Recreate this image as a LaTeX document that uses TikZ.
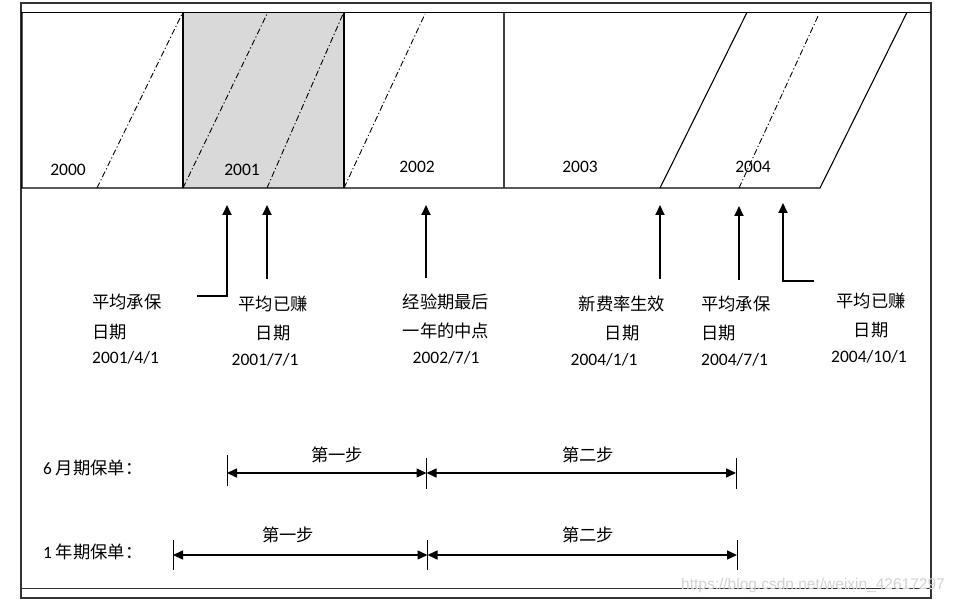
\documentclass[tikz,border=0pt]{standalone}
\usepackage{fontspec}
\setmainfont{Carlito}
\newfontfamily\cjk{Noto Sans CJK SC}
\newfontfamily\wmfont{Liberation Sans}
\usetikzlibrary{arrows.meta}
\begin{document}
\begin{tikzpicture}[x=1pt,y=-1pt,
  lbl/.style={font=\fontsize{17.3}{19}\selectfont\cjk, inner sep=0pt},
  num/.style={font=\fontsize{17.5}{19}\selectfont, inner sep=0pt},
  upar/.style={line width=1.8pt, -{Triangle[length=10pt,width=9pt]}},
  dd/.style={line width=0.9pt, dash pattern=on 6pt off 2.5pt on 1.2pt off 2.5pt},
  boxline/.style={line width=1.1pt},
  steparr/.style={line width=1.5pt, {Triangle[length=10pt,width=9pt]}-{Triangle[length=10pt,width=9pt]}},
  tickline/.style={line width=1pt}
]
\useasboundingbox (0,0) rectangle (959,604);
\fill[white] (0,0) rectangle (959,604);
% frame
\draw[line width=1.2pt, black!80] (21,3) rectangle (931,598);
\draw[line width=1pt] (21,13) -- (931,13);
\draw[line width=1pt, black!80] (21,588) -- (931,588);
% boxes
\fill[gray!30] (183,13) rectangle (344,188);
\draw[boxline] (22,13) -- (22,188) -- (820,188) -- (906.7,13);
\draw[boxline] (183,13) -- (183,188);
\draw[boxline] (344,13) -- (344,188);
\draw[boxline, black!75] (504,13) -- (504,188);
\draw[boxline] (660,188) -- (746.7,13);
% dash-dot lines
\draw[dd] (97,188) -- (182,14);
\draw[dd] (183,188) -- (267,14);
\draw[dd] (267,188) -- (343,14);
\draw[dd] (344,188) -- (425,14);
\draw[dd] (739,188) -- (819,14);
% year labels
\node[num] (y2000) at (68,170) {2000};
\node[num] (y2001) at (242,170) {2001};
\node[num] (y2002) at (417,167) {2002};
\node[num] (y2003) at (580,167) {2003};
\node[num] (y2004) at (753,167) {2004};
% arrows
\coordinate (a1s) at (197,296); \coordinate (a1e) at (227,205);
\coordinate (a2s) at (267,279); \coordinate (a2e) at (267,205);
\coordinate (a3s) at (426,278); \coordinate (a3e) at (426,205);
\coordinate (a4s) at (660,279); \coordinate (a4e) at (660,205);
\coordinate (a5s) at (739,280); \coordinate (a5e) at (739,206);
\coordinate (a6s) at (814,281); \coordinate (a6e) at (783,203);
\draw[upar] (a1s) -| (a1e);
\draw[upar] (a2s) -- (a2e);
\draw[upar] (a3s) -- (a3e);
\draw[upar] (a4s) -- (a4e);
\draw[upar] (a5s) -- (a5e);
\draw[upar] (a6s) -| (a6e);
% labels
\node[lbl, anchor=west] (l1a) at (92,302) {平均承保};
\node[lbl, anchor=west] (l1b) at (92,332) {日期};
\node[num, anchor=west] (l1c) at (92,358) {2001/4/1};
\node[lbl] (l2a) at (273,304) {平均已赚};
\node[lbl] (l2b) at (273,333) {日期};
\node[num] (l2c) at (265,360) {2001/7/1};
\node[lbl] (l3a) at (446,302) {经验期最后};
\node[lbl] (l3b) at (446,331) {一年的中点};
\node[num] (l3c) at (446,358) {2002/7/1};
\node[lbl] (l4a) at (622,304) {新费率生效};
\node[lbl] (l4b) at (622,333) {日期};
\node[num] (l4c) at (604,360) {2004/1/1};
\node[lbl, anchor=west] (l5a) at (701,304) {平均承保};
\node[lbl, anchor=west] (l5b) at (701,333) {日期};
\node[num, anchor=west] (l5c) at (701,360) {2004/7/1};
\node[lbl] (l6a) at (871,301) {平均已赚};
\node[lbl] (l6b) at (871,330) {日期};
\node[num] (l6c) at (869,357) {2004/10/1};
% step rows
\node[lbl, anchor=west] (r1) at (43,468) {{\fontspec{Carlito}6} 月期保单：};
\node[lbl, anchor=west] (r2) at (43,552) {{\fontspec{Carlito}1} 年期保单：};
\coordinate (p1a) at (227,473); \coordinate (p1b) at (426.5,473); \coordinate (p1c) at (736,473);
\coordinate (p2a) at (173,555); \coordinate (p2b) at (427.5,555); \coordinate (p2c) at (737,555);
\draw[tickline] (227,455) -- (227,486);
\draw[tickline] (426.5,458) -- (426.5,489);
\draw[tickline] (736,458) -- (736,489);
\draw[tickline] (173,540) -- (173,570);
\draw[tickline] (427.5,540) -- (427.5,570);
\draw[tickline] (737,540) -- (737,570);
\draw[steparr] (p1a) -- (p1b);
\draw[steparr] (p1b) -- (p1c);
\draw[steparr] (p2a) -- (p2b);
\draw[steparr] (p2b) -- (p2c);
\node[lbl] (s1) at (337,455) {第一步};
\node[lbl] (s2) at (588,455) {第二步};
\node[lbl] (s3) at (288,535) {第一步};
\node[lbl] (s4) at (588,535) {第二步};
% watermark
\node[font=\fontsize{15.5}{17}\selectfont\wmfont, text=gray!35, inner sep=0pt] (wm) at (813,585) {https://blog.csdn.net/weixin\_42617297};
\end{tikzpicture}
\end{document}
